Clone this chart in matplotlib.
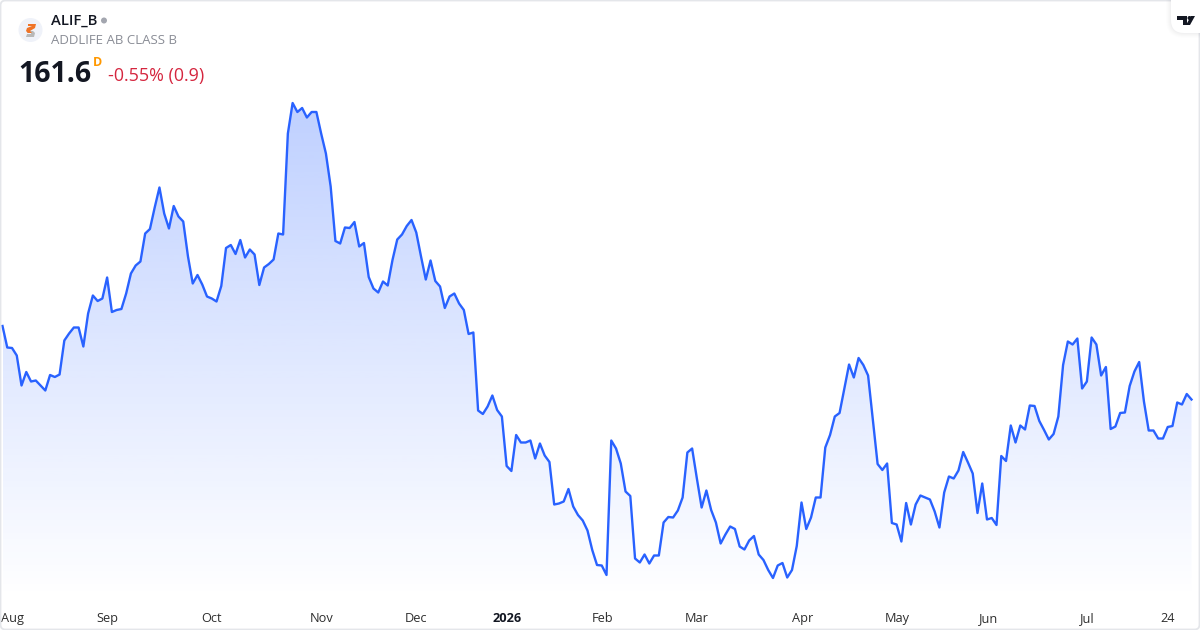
import matplotlib
matplotlib.use('Agg')
import matplotlib.pyplot as plt
import numpy as np
from matplotlib.patches import Circle, FancyBboxPatch, Polygon

plt.rcParams['font.family'] = ['Open Sans', 'DejaVu Sans']

prices = [
    176.4, 172.1, 172.0, 170.5, 164.5, 167.2, 165.3, 165.5, 164.5, 163.5, 166.6, 166.2, 166.7,
    173.5, 174.9, 176.1, 176.1, 172.3, 178.9, 182.5, 181.4, 181.9, 186.1, 179.2, 179.6, 179.8,
    182.9, 186.9, 188.5, 189.3, 194.9, 195.8, 200.1, 204.1, 198.9, 195.9, 200.4, 198.3, 197.3,
    190.3, 184.9, 186.6, 184.7, 182.3, 181.9, 181.3, 184.4, 192.0, 192.6, 190.8, 193.6, 190.1,
    191.7, 190.7, 184.6, 188.1, 188.8, 189.7, 194.9, 194.7, 214.9, 221.0, 219.2,
    220.0, 218.1, 219.2, 219.2, 214.9, 210.9, 204.3, 193.4, 192.9, 196.1, 196.0, 197.2, 192.3,
    193.0, 186.2, 183.9, 183.1, 185.3, 184.5, 189.6, 193.7, 194.7, 196.4, 197.6, 195.1, 190.3,
    185.7, 189.5, 185.4, 184.3, 180.0, 182.3, 182.9, 180.9, 179.6, 174.8, 175.1, 159.5, 158.8,
    160.3, 162.5, 159.6, 158.3, 148.4, 147.4, 154.6, 153.1, 153.1, 153.5, 149.9, 152.9, 150.5,
    149.2,
    140.7, 140.9, 141.3, 143.8, 140.3, 138.6, 137.5, 135.5, 131.6, 128.6, 128.5, 126.6, 153.5,
    151.9, 148.9, 143.3, 142.4, 129.9, 129.1, 130.7, 128.9, 130.5, 130.5, 137.1, 138.2, 138.1,
    139.5, 142.1, 151.1, 151.9, 145.9, 140.1, 143.5, 139.6, 137.1, 132.9, 134.7, 136.3, 135.8,
    132.3, 131.7, 133.5, 134.4, 130.7, 129.6, 127.6, 126.0, 128.5, 129.0, 126.1, 127.6, 132.4,
    141.1, 135.8, 138.1, 142.1, 142.1, 152.1, 154.6,
    158.3, 159.0, 163.9, 168.7, 166.1, 170.0, 168.6, 166.5, 157.7, 148.8, 147.6, 148.9, 137.0,
    136.7, 133.3, 141.0, 136.7, 140.7, 142.5, 142.1, 141.7, 139.3, 136.1, 143.1, 146.3, 145.9,
    147.5, 151.2, 149.1, 146.9, 139.0, 144.9, 137.7, 138.0, 136.6, 150.4, 149.4, 156.5, 153.1,
    156.5, 155.7, 160.5, 160.4, 157.4, 155.6, 153.7, 154.8, 158.3, 168.6, 173.3, 172.7, 173.9,
    163.9, 165.3, 174.1, 172.7, 166.5, 168.2, 155.8, 156.3, 159.0, 159.1, 164.4, 167.3, 169.2,
    161.3, 155.5, 155.5, 153.9, 153.9, 156.2, 156.4, 161.1, 160.7, 162.8, 161.7,
]

tick_index = [2, 22, 44, 67, 87, 106, 126.2, 146, 168.2, 188.2, 207.4, 228, 245]
tick_labels = ['Aug', 'Sep', 'Oct', 'Nov', 'Dec', '2026', 'Feb', 'Mar', 'Apr', 'May', 'Jun', 'Jul', '24']

W, H = 1200, 630
x = np.arange(len(prices))
step = (1191.5 - 2.5) / (len(prices) - 1)   # px per bar
y_top, y_bot = 241.6, 115.6                  # price at top / bottom edge of the card

fig = plt.figure(figsize=(12, 6.3), dpi=100, facecolor='white')
ax = fig.add_axes([0, 0, 1, 1])
ax.set_xlim(-2.5 / step, (W - 2.5) / step)
ax.set_ylim(y_bot, y_top)
for s in ax.spines.values():
    s.set_visible(False)
ax.yaxis.set_visible(False)

# area fill, vertical fade clipped to the area under the line
area = ax.fill_between(x, prices, y_bot, color='none', linewidth=0)
grad = np.zeros((256, 1, 4))
grad[:, :, :3] = np.array([41, 98, 255]) / 255
grad[:, 0, 3] = np.linspace(0.30, 0.0, 256)
fade = ax.imshow(grad, extent=(x[0], x[-1], 122.0, 221.0), origin='upper', aspect='auto', zorder=1,
                 interpolation='bilinear')
fade.set_clip_path(area.get_paths()[0], transform=ax.transData)
ax.set_xlim(-2.5 / step, (W - 2.5) / step)
ax.set_ylim(y_bot, y_top)

ax.plot(x, prices, color='#2962ff', linewidth=1.7, solid_joinstyle='round', zorder=3)

ax.set_xticks(tick_index)
ax.set_xticklabels(tick_labels, fontsize=9.2, color='#2e2e2e', va='baseline')
ax.tick_params(axis='x', length=0, pad=-5.8)
ax.get_xticklabels()[5].set_fontweight('bold')
ax.get_xticklabels()[5].set_color('#131722')

# header and logos, drawn in pixel coordinates
ov = fig.add_axes([0, 0, 1, 1])
ov.set_xlim(0, W)
ov.set_ylim(H, 0)
ov.axis('off')

ov.add_patch(FancyBboxPatch((0.5, 0.5), W - 1, H - 1, boxstyle='round,pad=0,rounding_size=5',
                            fc='none', ec='#e4e6ea', lw=1.3))

ov.add_patch(Circle((30.5, 30), 12, fc='#eff2f9', ec='none'))
ov.add_patch(Polygon([(27, 31), (33, 31), (35, 33), (34, 37), (26, 37), (27, 34), (31, 34), (31, 33), (27, 33)],
                     fc='#b8b8b8', ec='none', zorder=2))
ov.add_patch(Polygon([(28, 24), (36, 24), (35, 28), (30, 31), (32, 33), (28, 33), (26, 31), (27, 28), (32, 26), (28, 26)],
                     fc='#f07427', ec='none', zorder=3))

ov.text(51, 21, 'ALIF_B', fontsize=10.7, fontweight='semibold', color='#131722', va='center')
ov.add_patch(Circle((104, 20.5), 3, fc='#a3a6af', ec='none'))
ov.text(51, 40.5, 'ADDLIFE AB CLASS B', fontsize=9.5, color='#8a8d96', va='center')
ov.text(18.5, 74.5, '161.6', fontsize=20.6, fontweight='bold', color='#131722', va='center')
ov.text(93, 62.5, 'D', fontsize=9, fontweight='bold', color='#ff9800', va='center')
ov.text(108, 75.5, '-0.55% (0.9)', fontsize=12.85, color='#d5263f', va='center')

# TradingView badge, soft shadow built from stacked translucent boxes
for grow, a in [(5, 0.006), (4, 0.008), (3, 0.01), (2, 0.012), (1, 0.015)]:
    ov.add_patch(FancyBboxPatch((1171 - grow, -20), 50, 53 + grow, boxstyle='round,pad=0,rounding_size=%d' % (13 + grow),
                                fc='#30343c', ec='none', alpha=a, zorder=4))
ov.add_patch(FancyBboxPatch((1171, -20), 50, 53, boxstyle='round,pad=0,rounding_size=13',
                            fc='white', ec='none', zorder=5))
ov.add_patch(Polygon([(1177, 16), (1187, 16), (1187, 25), (1183, 25), (1183, 20), (1177, 20)], fc='#131722', ec='none', zorder=6))
ov.add_patch(Circle((1189.5, 18), 2, fc='#131722', ec='none', zorder=6))
ov.add_patch(Polygon([(1191, 16), (1195, 16), (1190, 25), (1186, 25)], fc='#131722', ec='none', zorder=6))
ov.set_xlim(0, W)
ov.set_ylim(H, 0)

plt.savefig('out.png', dpi=100)
